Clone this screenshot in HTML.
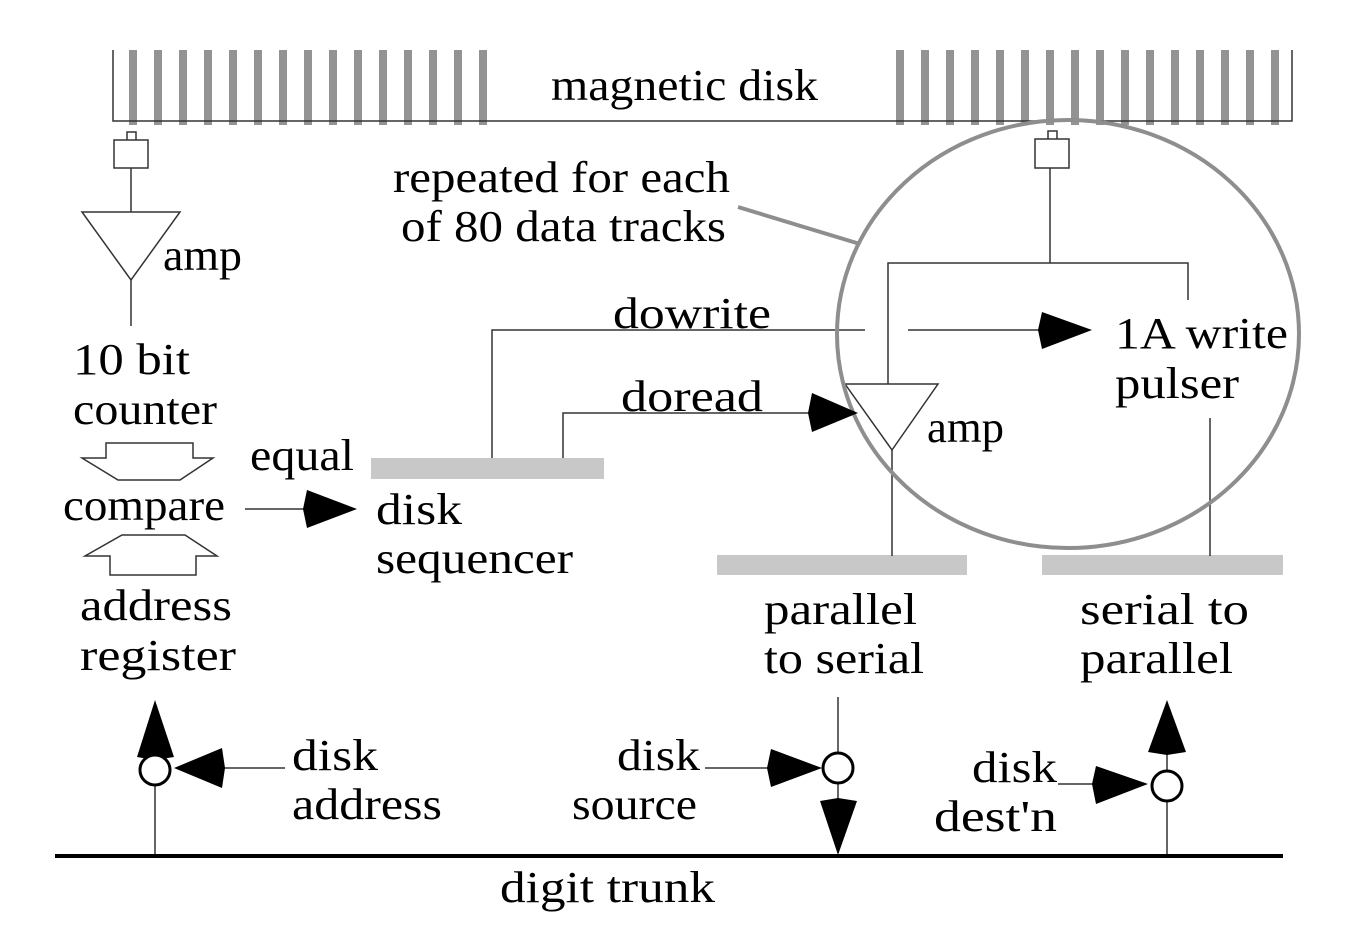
<!DOCTYPE html>
<html><head><meta charset="utf-8"><style>
html,body{margin:0;padding:0;background:#fff;}
svg{display:block;}
svg text{font-family:"Liberation Serif","DejaVu Serif","Times New Roman",serif;font-size:44px;fill:#000;}
</style></head><body>
<svg width="1347" height="939" viewBox="0 0 1347 939" xmlns="http://www.w3.org/2000/svg" font-family="Liberation Serif, DejaVu Serif, serif">
<!-- disk -->
<g fill="#939393">
<rect x="129" y="50" width="8" height="75"/><rect x="154" y="50" width="8" height="75"/><rect x="179" y="50" width="8" height="75"/><rect x="204" y="50" width="8" height="75"/><rect x="229" y="50" width="8" height="75"/><rect x="254" y="50" width="8" height="75"/><rect x="279" y="50" width="8" height="75"/><rect x="304" y="50" width="8" height="75"/><rect x="329" y="50" width="8" height="75"/><rect x="354" y="50" width="8" height="75"/><rect x="379" y="50" width="8" height="75"/><rect x="404" y="50" width="8" height="75"/><rect x="429" y="50" width="8" height="75"/><rect x="454" y="50" width="8" height="75"/><rect x="479" y="50" width="8" height="75"/>
<rect x="896" y="50" width="8" height="75"/><rect x="921" y="50" width="8" height="75"/><rect x="946" y="50" width="8" height="75"/><rect x="971" y="50" width="8" height="75"/><rect x="996" y="50" width="8" height="75"/><rect x="1021" y="50" width="8" height="75"/><rect x="1046" y="50" width="8" height="75"/><rect x="1071" y="50" width="8" height="75"/><rect x="1096" y="50" width="8" height="75"/><rect x="1121" y="50" width="8" height="75"/><rect x="1146" y="50" width="8" height="75"/><rect x="1171" y="50" width="8" height="75"/><rect x="1196" y="50" width="8" height="75"/><rect x="1221" y="50" width="8" height="75"/><rect x="1246" y="50" width="8" height="75"/><rect x="1271" y="50" width="8" height="75"/>
</g>
<polyline points="113,50 113,121 1292,121 1292,50" fill="none" stroke="#333" stroke-width="1.5"/>
<text x="551" y="100" textLength="267" lengthAdjust="spacingAndGlyphs">magnetic disk</text>

<!-- gray bars -->
<g fill="#c8c8c8">
<rect x="371" y="458" width="233" height="21"/>
<rect x="717" y="555" width="250" height="20"/>
<rect x="1042" y="555" width="241" height="20"/>
</g>

<!-- lines -->
<g stroke="#333" stroke-width="1.5" fill="none">
<rect x="114" y="140" width="34" height="28" fill="#fff"/>
<polyline points="127,140 127,132 136,132 136,140"/>
<line x1="131" y1="168" x2="131" y2="212"/>
<polygon points="82,212 180,212 131,280" fill="#fff"/>
<line x1="131" y1="280" x2="131" y2="326"/>
<rect x="1035" y="139" width="34" height="29" fill="#fff"/>
<polyline points="1048,139 1048,131 1057,131 1057,139"/>
<line x1="1050" y1="168" x2="1050" y2="263"/>
<polyline points="888,384 888,263 1188,263 1188,300"/>
<polyline points="492,458 492,330 865,330"/>
<line x1="908" y1="330" x2="1045" y2="330"/>
<polyline points="563,458 563,413 810,413"/>
<polygon points="845,384 938,384 892,450" fill="none"/>
<line x1="892" y1="450" x2="892" y2="556"/>
<line x1="1210" y1="418" x2="1210" y2="556"/>
<line x1="245" y1="509" x2="310" y2="509"/>
<polygon points="106,443 193,443 193,458 213,458 180,480 118,480 82,458 106,458"/>
<polygon points="110,575 196,575 196,556 217,556 185,535 122,535 85,556 110,556"/>
<!-- bottom -->
<line x1="155" y1="786" x2="155" y2="856"/>
<line x1="222" y1="768" x2="285" y2="768"/>
<line x1="838" y1="697" x2="838" y2="753"/>
<line x1="838" y1="783" x2="838" y2="800"/>
<line x1="705" y1="768" x2="772" y2="768"/>
<line x1="1167" y1="752" x2="1167" y2="771"/>
<line x1="1167" y1="802" x2="1167" y2="856"/>
<line x1="1058" y1="784" x2="1095" y2="784"/>
</g>
<line x1="55" y1="856" x2="1283" y2="856" stroke="#000" stroke-width="4"/>
<!-- circle & pointer -->
<ellipse cx="1068" cy="334" rx="231" ry="214" fill="none" stroke="#8e8e8e" stroke-width="4"/>
<line x1="738" y1="207" x2="860" y2="244" stroke="#8e8e8e" stroke-width="4"/>

<!-- arrowheads -->
<g fill="#000">
<polygon points="1092,330 1042,312 1038,330 1042,349"/>
<polygon points="858,413 812,393 808,413 812,432"/>
<polygon points="357,509 307,490 303,509 307,528"/>
<polygon points="155,700 137,757 155,760 174,757"/>
<polygon points="174,768 222,748 225,768 222,788"/>
<polygon points="822,768 771,749 767,768 771,787"/>
<polygon points="838,855 820,801 838,798 857,801"/>
<polygon points="1167,700 1148,752 1167,755 1186,752"/>
<polygon points="1148,784 1096,766 1092,784 1096,804"/>
</g>
<g fill="#fff" stroke="#000" stroke-width="3">
<circle cx="155" cy="770" r="15"/>
<circle cx="838" cy="768" r="15"/>
<circle cx="1167" cy="786" r="15"/>
</g>

<!-- text -->
<g>
<text x="393" y="192" textLength="337" lengthAdjust="spacingAndGlyphs">repeated for each</text>
<text x="401" y="241" textLength="325" lengthAdjust="spacingAndGlyphs">of 80 data tracks</text>
<text x="163" y="270" textLength="79" lengthAdjust="spacingAndGlyphs">amp</text>
<text x="73" y="374" textLength="117" lengthAdjust="spacingAndGlyphs">10 bit</text>
<text x="73" y="424" textLength="144" lengthAdjust="spacingAndGlyphs">counter</text>
<text x="250" y="470" textLength="104" lengthAdjust="spacingAndGlyphs">equal</text>
<text x="63" y="520" textLength="162" lengthAdjust="spacingAndGlyphs">compare</text>
<text x="376" y="524" textLength="86" lengthAdjust="spacingAndGlyphs">disk</text>
<text x="376" y="573" textLength="197" lengthAdjust="spacingAndGlyphs">sequencer</text>
<text x="80" y="620" textLength="152" lengthAdjust="spacingAndGlyphs">address</text>
<text x="80" y="670" textLength="156" lengthAdjust="spacingAndGlyphs">register</text>
<text x="613" y="328" textLength="158" lengthAdjust="spacingAndGlyphs">dowrite</text>
<text x="621" y="411" textLength="142" lengthAdjust="spacingAndGlyphs">doread</text>
<text x="927" y="442" textLength="77" lengthAdjust="spacingAndGlyphs">amp</text>
<text x="1115" y="348" textLength="173" lengthAdjust="spacingAndGlyphs">1A write</text>
<text x="1115" y="398" textLength="124" lengthAdjust="spacingAndGlyphs">pulser</text>
<text x="764" y="624" textLength="153" lengthAdjust="spacingAndGlyphs">parallel</text>
<text x="764" y="673" textLength="160" lengthAdjust="spacingAndGlyphs">to serial</text>
<text x="1080" y="624" textLength="169" lengthAdjust="spacingAndGlyphs">serial to</text>
<text x="1080" y="673" textLength="153" lengthAdjust="spacingAndGlyphs">parallel</text>
<text x="292" y="770" textLength="86" lengthAdjust="spacingAndGlyphs">disk</text>
<text x="292" y="819" textLength="150" lengthAdjust="spacingAndGlyphs">address</text>
<text x="617" y="770" textLength="83" lengthAdjust="spacingAndGlyphs">disk</text>
<text x="572" y="819" textLength="125" lengthAdjust="spacingAndGlyphs">source</text>
<text x="972" y="782" textLength="85" lengthAdjust="spacingAndGlyphs">disk</text>
<text x="934" y="831" textLength="123" lengthAdjust="spacingAndGlyphs">dest'n</text>
<text x="500" y="902" textLength="215" lengthAdjust="spacingAndGlyphs">digit trunk</text>
</g>
</svg>
</body></html>
